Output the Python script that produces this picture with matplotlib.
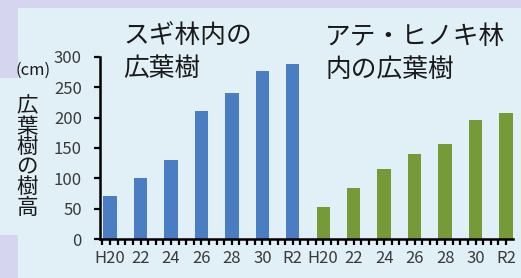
import matplotlib
matplotlib.use("Agg")
import matplotlib.pyplot as plt
from matplotlib.patches import Rectangle
from matplotlib.ticker import MultipleLocator

plt.rcParams['font.family'] = ['Noto Sans CJK JP', 'DejaVu Sans']

# Data
categories = ["H20", "22", "24", "26", "28", "30", "R2",
              "H20", "22", "24", "26", "28", "30", "R2"]
sugi_values = [71, 101, 131, 211, 240, 277, 288]
ate_values = [53, 84, 115, 140, 156, 196, 207]
y_ticks = [0, 50, 100, 150, 200, 250, 300]

W, H = 521, 278
fig = plt.figure(figsize=(W / 100, H / 100), dpi=100)
lav = "#d5d5f0"
light = "#e1eff7"
fig.patch.set_facecolor(lav)

def frect(x0, y0, x1, y1, color):
    fig.patches.append(Rectangle((x0 / W, 1 - y1 / H), (x1 - x0) / W, (y1 - y0) / H,
                                 transform=fig.transFigure, facecolor=color,
                                 edgecolor="none", zorder=-5))

frect(18, 8, W, H, light)
frect(0, 78, 18, H - 43, light)

ax = fig.add_axes([100 / W, 1 - 239 / H, (513.3 - 100) / W, (239 - 57) / H])
ax.set_facecolor("none")

n1 = len(sugi_values)
x1 = list(range(n1))
x2 = list(range(n1, n1 + len(ate_values)))
ax.bar(x1, sugi_values, width=0.44, color="#4a7dc2", zorder=2)
ax.bar(x2, ate_values, width=0.44, color="#769a37", zorder=2)

ax.set_xlim(-0.33, 13.24)
ax.set_ylim(0, 300)
ax.set_yticks(y_ticks)
ax.set_xticks(x1 + x2)
ax.set_xticklabels(categories)
ax.xaxis.set_minor_locator(MultipleLocator(0.25))
for s in ["top", "right"]:
    ax.spines[s].set_visible(False)
for s in ["left", "bottom"]:
    ax.spines[s].set_linewidth(1.8)
    ax.spines[s].set_color("black")
ax.tick_params(axis="y", length=4, width=1.6, pad=9, labelsize=12, labelcolor="#3a3a3a")
ax.tick_params(axis="x", which="both", length=4, width=1.6, pad=4, labelsize=12,
               labelcolor="#3a3a3a")

tc = "#1a1a1a"
fig.text(123 / W, 1 - 23 / H, "スギ林内の\n広葉樹", fontsize=18.5, color=tc,
         va="top", ha="left", linespacing=1.35)
fig.text(325 / W, 1 - 24 / H, "アテ・ヒノキ林\n内の広葉樹", fontsize=18.5, color=tc,
         va="top", ha="left", linespacing=1.35)
fig.text(33 / W, 1 - 70 / H, "(cm)", fontsize=12, color=tc, va="center", ha="center")
fig.text(27 / W, 1 - 157 / H, "広\n葉\n樹\nの\n樹\n高", fontsize=15.5, color=tc,
         va="center", ha="center", linespacing=0.9)

fig.savefig("out.png", dpi=100, facecolor=fig.get_facecolor())
